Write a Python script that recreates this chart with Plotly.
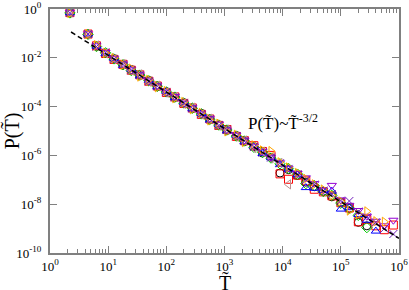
import plotly.graph_objects as go

# ---- data ----
T_bins = [2.2, 4.5, 6.3, 9, 12.6, 18, 25, 35, 50, 70, 100, 140, 200, 280, 400, 560,
          800, 1100, 1600, 2200, 3200, 4500, 6300, 9000, 12600, 18000, 25000, 35000,
          50000, 70000, 1e5, 1.4e5, 2e5, 2.8e5, 4e5, 5.6e5, 8e5]

P_black = [0.70, 0.092, 0.030, 0.0155, 0.0093, 0.0050, 0.0033, 0.0019, 0.00118, 6.5e-4,
           4.1e-4, 2.3e-4, 1.45e-4, 8.2e-5, 5.3e-5, 2.9e-5, 1.8e-5, 1.05e-5, 6.5e-6, 3.7e-6,
           2.3e-6, 1.25e-6, 8.3e-7, 1.9e-7, 2.6e-7, 1.5e-7, 8.0e-8, 5.2e-8, 3.4e-8, 2.0e-8,
           1.2e-8, 6.8e-9, 1.8e-9, 1.3e-9]
P_red = [0.71, 0.094, 0.031, 0.0150, 0.0086, 0.0054, 0.0031, 0.0020, 0.00110, 7.0e-4,
         3.8e-4, 2.5e-4, 1.35e-4, 8.8e-5, 4.8e-5, 3.1e-5, 1.7e-5, 1.15e-5, 6.0e-6, 4.0e-6,
         2.5e-6, 1.45e-6, 1.0e-6, 1.75e-7, 1.05e-7, 1.55e-7, 9.0e-8, 4.1e-8, 3.2e-8, 2.2e-8,
         1.15e-8, 7.0e-9, 1.9e-9, 2.4e-9, 1.3e-9, 9.0e-10, 1.4e-9]
P_green = [0.69, 0.091, 0.029, 0.0160, 0.0090, 0.0052, 0.0030, 0.00195, 0.00115, 6.8e-4,
           4.0e-4, 2.45e-4, 1.40e-4, 8.6e-5, 5.0e-5, 3.0e-5, 1.75e-5, 1.1e-5, 6.2e-6, 3.9e-6,
           2.15e-6, 1.35e-6, 7.8e-7, 4.5e-7, 2.9e-7, 1.7e-7, 7.0e-8, 5.8e-8, 3.3e-8, 2.3e-8,
           1.1e-8, 6.5e-9, 3.5e-9, 1.1e-9]
P_blue = [0.70, 0.095, 0.030, 0.0148, 0.0095, 0.0049, 0.0034, 0.0018, 0.00120, 6.4e-4,
          4.2e-4, 2.3e-4, 1.5e-4, 8.0e-5, 5.2e-5, 2.8e-5, 1.85e-5, 1.0e-5, 6.6e-6, 3.6e-6,
          2.3e-6, 1.2e-6, 8.0e-7, 4.2e-7, 2.7e-7, 1.6e-7, 4.8e-8, 4.5e-8, 3.7e-8, 3.4e-8,
          6.3e-9, 7.2e-9, 3.8e-9, 2.2e-9, 7.9e-10]
P_brown = [0.70, 0.090, 0.032, 0.0152, 0.0088, 0.0055, 0.0030, 0.0021, 0.00105, 7.2e-4,
           3.7e-4, 2.5e-4, 1.3e-4, 9.0e-5, 4.7e-5, 3.2e-5, 1.65e-5, 1.15e-5, 5.8e-6, 4.1e-6,
           2.0e-6, 1.4e-6, 7.5e-7, 4.9e-7, 6.5e-8]
P_violet = [0.72, 0.096, 0.031, 0.0165, 0.0092, 0.0056, 0.0032, 0.0020, 0.00112, 7.1e-4,
            3.9e-4, 2.6e-4, 1.38e-4, 9.0e-5, 5.0e-5, 3.2e-5, 1.9e-5, 1.1e-5, 6.8e-6, 4.2e-6,
            2.4e-6, 1.5e-6, 8.5e-7, 5.0e-7, 3.0e-7, 1.8e-7, 1.2e-7, 7.0e-8, 3.8e-8, 5.9e-8,
            1.5e-8, 9.0e-9, 5.5e-9, 3.2e-9, 2.0e-9, 1.3e-9, 2.2e-9]
P_orange = [0.68, 0.093, 0.033, 0.0158, 0.0098, 0.0051, 0.0036, 0.0017, 0.00125, 6.2e-4,
            4.3e-4, 2.2e-4, 1.55e-4, 7.8e-5, 5.5e-5, 2.7e-5, 2.0e-5, 9.6e-6, 7.0e-6, 3.5e-6,
            2.6e-6, 1.6e-6, 1.5e-6, 5.2e-7, 3.2e-7, 1.9e-7, 1.1e-7, 6.5e-8, 4.0e-8, 2.3e-8,
            1.3e-8, 5.5e-9, 3.9e-9, 5.1e-9, 2.0e-9, 1.9e-9]
P_indigo = [0.70, 0.094, 0.029, 0.0170, 0.0087, 0.0053, 0.0031, 0.0020, 0.00108, 6.9e-4,
            4.0e-4, 2.4e-4, 1.42e-4, 8.4e-5, 4.9e-5, 3.1e-5, 1.7e-5, 1.12e-5, 6.1e-6, 3.9e-6,
            2.2e-6, 1.3e-6, 8.1e-7, 4.8e-7, 2.8e-7, 1.7e-7, 1.0e-7, 6.3e-8, 3.6e-8, 2.6e-8,
            1.4e-8, 1.35e-8, 5.0e-9, 2.9e-9, 1.8e-9, 1.0e-9, 6.0e-10]

# fitted power law P ~ A * T^(-3/2)
fit_T = [2.3, 1e6]
fit_A = 0.398
fit_exp = -1.5

x_tickvals = [1e0, 1e1, 1e2, 1e3, 1e4, 1e5, 1e6]
x_ticktext = ["10<sup>0</sup>", "10<sup>1</sup>", "10<sup>2</sup>", "10<sup>3</sup>",
              "10<sup>4</sup>", "10<sup>5</sup>", "10<sup>6</sup>"]
y_tickvals = [1e0, 1e-2, 1e-4, 1e-6, 1e-8, 1e-10]
y_ticktext = ["10<sup>0</sup>", "10<sup>-2</sup>", "10<sup>-4</sup>", "10<sup>-6</sup>",
              "10<sup>-8</sup>", "10<sup>-10</sup>"]
x_minor = [m * 10 ** k for k in range(0, 6) for m in range(2, 10)]

series = [
    (P_black, "circle-open", "#000000"),
    (P_red, "square-open", "#ff0000"),
    (P_green, "diamond-open", "#00c800"),
    (P_blue, "triangle-up-open", "#0000ff"),
    (P_brown, "triangle-left-open", "#bc8f8f"),
    (P_violet, "triangle-down-open", "#9400d3"),
    (P_orange, "triangle-right-open", "#ffa500"),
    (P_indigo, "x-thin-open", "#7221bc"),
]

fig = go.Figure()
for P, sym, col in series:
    fig.add_trace(go.Scatter(
        x=T_bins[:len(P)], y=P, mode="markers",
        marker=dict(symbol=sym, size=8, color=col, line=dict(color=col, width=1)),
        showlegend=False))

fit_P = [fit_A * t ** fit_exp for t in fit_T]
fig.add_trace(go.Scatter(x=fit_T, y=fit_P, mode="lines",
                         line=dict(color="black", width=1.5, dash="5px,3px"),
                         showlegend=False))

font = "Liberation Serif, Times New Roman, serif"
axis_common = dict(type="log", showgrid=False, zeroline=False, showline=True,
                   automargin=False,
                   linecolor="#808080", linewidth=2, mirror="ticks",
                   ticks="inside", tickcolor="#808080", tickwidth=1,
                   ticklabeloverflow="allow",
                   tickfont=dict(family=font, size=13, color="black"))

fig.update_xaxes(range=[0, 6], tickmode="array", tickvals=x_tickvals, ticktext=x_ticktext,
                 ticklen=7,
                 minor=dict(ticks="inside", ticklen=4, tickvals=x_minor,
                            tickcolor="#808080", tickwidth=1),
                 **axis_common)
fig.update_yaxes(range=[-10, 0], tickmode="array", tickvals=y_tickvals, ticktext=y_ticktext,
                 ticklen=7, ticklabelstandoff=4,
                 title=dict(text="P(T\u0303)", font=dict(family=font, size=20, color="black"),
                            standoff=2),
                 **axis_common)

# x-axis title placed as a paper annotation so it fits the short bottom margin
fig.add_annotation(x=0.5, y=-0.122, xref="paper", yref="paper",
                   text="T\u0303", showarrow=False, xanchor="center", yanchor="middle",
                   font=dict(family=font, size=20, color="black"))

fig.add_annotation(x=4.0, y=-4.63, xref="x", yref="y",
                   text="P(T\u0303)~T\u0303<sup>-3/2</sup>", showarrow=False,
                   font=dict(family=font, size=17, color="black"))

fig.update_layout(width=409, height=290, margin=dict(l=50, r=10, t=9, b=37),
                  plot_bgcolor="white", paper_bgcolor="white")
# remove the browser's default 8px page margin so the figure sits at the window origin
fig.write_html("out.html", config={"displayModeBar": False},
               post_script="document.body.style.margin='0px';")
